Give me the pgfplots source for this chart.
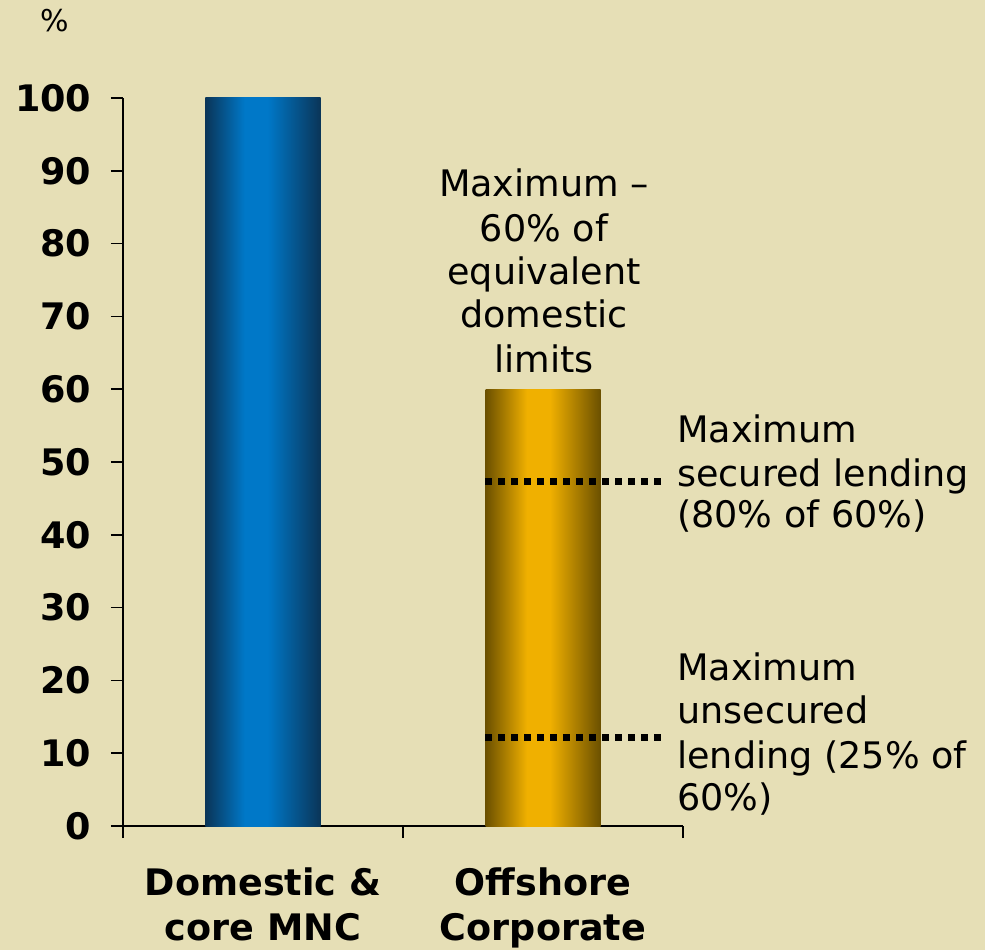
\documentclass[border=0pt]{standalone}
\usepackage{fontspec}
\setmainfont{DejaVu Sans}
\usepackage{pgfplots}
\pgfplotsset{compat=1.18}
\definecolor{bgc}{HTML}{E6DFB6}
\definecolor{bluedark}{HTML}{0A3558}
\definecolor{bluebright}{HTML}{0078C8}
\definecolor{golddark}{HTML}{6B5000}
\definecolor{goldbright}{HTML}{F0B000}
\pgfdeclarehorizontalshading{bluebar}{100bp}{color(0bp)=(bluedark); color(25bp)=(bluedark); color(42bp)=(bluebright); color(52bp)=(bluebright); color(75bp)=(bluedark); color(100bp)=(bluedark)}
\pgfdeclarehorizontalshading{goldbar}{100bp}{color(0bp)=(golddark); color(25bp)=(golddark); color(43bp)=(goldbright); color(53bp)=(goldbright); color(75bp)=(golddark); color(100bp)=(golddark)}
\newcommand{\ann}{\fontsize{27.4}{33}\selectfont}
\newcommand{\bann}{\fontsize{27.4}{33}\selectfont\bfseries}
\begin{document}
\begin{tikzpicture}
\path[use as bounding box, fill=bgc] (-92.25pt,-93pt) rectangle (646.5pt,619.5pt);
\begin{axis}[
  at={(0pt,0pt)}, anchor=south west,
  scale only axis, width=420pt, height=546pt,
  xmin=0, xmax=2, ymin=0, ymax=100,
  axis x line*=bottom, axis y line*=left,
  axis line style={-, line width=1.3pt, black},
  tick style={line width=1.3pt, black},
  major tick length=9pt, tick align=outside,
  xtick={0,1,2}, xticklabels={},
  ytick={0,10,...,100},
  /pgf/number format/assume math mode=true,
  yticklabel style={font=\bann, anchor=east, inner sep=0pt, xshift=-14.6pt},
  clip=false,
]
\addplot[ybar, bar width=86.25pt, bar shift=0pt, draw=none, shade, shading=bluebar]
  coordinates {(0.5,100)};
\addplot[ybar, bar width=86.25pt, bar shift=0pt, draw=none, shade, shading=goldbar]
  coordinates {(1.5,60)};
\addplot[black, line width=5pt, dash pattern=on 5.25pt off 4.5pt, line cap=butt, mark=none]
  coordinates {(1.293,47.3) (1.936,47.3)};
\addplot[black, line width=5pt, dash pattern=on 5.25pt off 4.5pt, line cap=butt, mark=none]
  coordinates {(1.293,12.2) (1.936,12.2)};
\end{axis}
% y unit
\node[anchor=base, inner sep=0pt, font=\fontsize{22.5}{27}\selectfont] at (-51pt,595.5pt) {\%};
% x category labels
\node[anchor=base, inner sep=0pt, font=\bann] at (105pt,-51.75pt) {Domestic \&};
\node[anchor=base, inner sep=0pt, font=\bann] at (105pt,-85.5pt) {core MNC};
\node[anchor=base, inner sep=0pt, font=\bann] at (315pt,-51.75pt) {Offshore};
\node[anchor=base, inner sep=0pt, font=\bann] at (315pt,-85.5pt) {Corporate};
% middle annotation
\node[anchor=base, inner sep=0pt, font=\ann] at (315.75pt,472pt) {Maximum –};
\node[anchor=base, inner sep=0pt, font=\ann] at (315.75pt,438.5pt) {60\% of};
\node[anchor=base, inner sep=0pt, font=\ann] at (315.75pt,405.75pt) {equivalent};
\node[anchor=base, inner sep=0pt, font=\ann] at (315.75pt,373.5pt) {domestic};
\node[anchor=base, inner sep=0pt, font=\ann] at (315.75pt,339.75pt) {limits};
% right annotation 1
\node[anchor=base west, inner sep=0pt, font=\ann] at (415.5pt,287.25pt) {Maximum};
\node[anchor=base west, inner sep=0pt, font=\ann] at (415.5pt,254.25pt) {secured lending};
\node[anchor=base west, inner sep=0pt, font=\ann] at (415.5pt,223.5pt) {(80\% of 60\%)};
% right annotation 2
\node[anchor=base west, inner sep=0pt, font=\ann] at (415.5pt,109.5pt) {Maximum};
\node[anchor=base west, inner sep=0pt, font=\ann] at (415.5pt,77.25pt) {unsecured};
\node[anchor=base west, inner sep=0pt, font=\ann] at (415.5pt,43.5pt) {lending (25\% of};
\node[anchor=base west, inner sep=0pt, font=\ann] at (415.5pt,12pt) {60\%)};
\end{tikzpicture}
\end{document}
